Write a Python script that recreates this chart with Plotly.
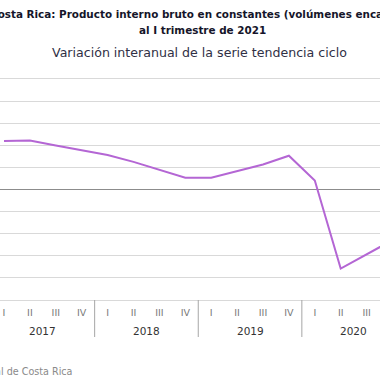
import plotly.graph_objects as go

# ---- data ----
quarters = ["I", "II", "III", "IV"] * 4 + ["I"]
years = ["2017", "2018", "2019", "2020", "2021"]
variacion = [4.39, 4.43, 3.99, 3.56, 3.13, 2.50, 1.78, 1.06,
             1.06, 1.67, 2.26, 3.06, 0.82, -7.15, -5.90, -4.60, -3.30]

title_1 = "Costa Rica: Producto interno bruto en constantes (volúmenes encadenados)"
title_2 = "al I trimestre de 2021"
subtitle = "Variación interanual de la serie tendencia ciclo"
source = "Fuente: Banco Central de Costa Rica"

FONT = "DejaVu Sans"
W, H = 380, 380
x_idx = list(range(len(variacion)))

fig = go.Figure()
fig.add_trace(go.Scatter(
    x=x_idx, y=variacion, mode="lines",
    line=dict(color="#b466d4", width=2),
    hoverinfo="skip", showlegend=False, cliponaxis=True,
))

top, bottom = 79, 300
ph = bottom - top

def py(px):
    return (bottom - px) / ph

shapes = []
annotations = []
for i, yr in enumerate(years[:4]):
    annotations.append(dict(
        x=i * 4 + 1.5, y=py(331), xref="x", yref="paper", text=yr,
        showarrow=False, xanchor="center", yanchor="middle",
        font=dict(family=FONT, size=10.5, color="#333333"),
    ))
for i in range(5):
    xs = i * 4 - 0.5
    shapes.append(dict(type="line", xref="x", yref="paper",
                       x0=xs, x1=xs, y0=0, y1=py(337),
                       line=dict(color="#a6a6a6", width=1)))

annotations += [
    dict(x=-12 / W, y=py(14), xref="paper", yref="paper", text=title_1,
         showarrow=False, xanchor="left", yanchor="middle",
         font=dict(family=FONT, size=10.4, color="#15152a", weight="bold")),
    dict(x=202 / W, y=py(30), xref="paper", yref="paper", text=title_2,
         showarrow=False, xanchor="center", yanchor="middle",
         font=dict(family=FONT, size=10.4, color="#15152a", weight="bold")),
    dict(x=199 / W, y=py(53), xref="paper", yref="paper", text=subtitle,
         showarrow=False, xanchor="center", yanchor="middle",
         font=dict(family=FONT, size=12.6, color="#303045")),
    dict(x=75 / W, y=py(371), xref="paper", yref="paper", text=source,
         showarrow=False, xanchor="right", yanchor="middle",
         font=dict(family=FONT, size=9.6, color="#8a8a8a")),
]

fig.update_layout(
    width=W, height=H,
    margin=dict(l=0, r=0, t=top, b=H - bottom, pad=0),
    paper_bgcolor="white", plot_bgcolor="white",
    shapes=shapes, annotations=annotations,
    xaxis=dict(
        range=[-4 / 25.9, (W - 4) / 25.9],
        tickmode="array", tickvals=x_idx, ticktext=quarters,
        showgrid=False, zeroline=False,
        showline=True, mirror=True, linecolor="#d9d9d9", linewidth=1,
        ticks="", ticklabelstandoff=4,
        tickfont=dict(family=FONT, size=9.5, color="#777777"),
    ),
    yaxis=dict(
        range=[-10, 10], dtick=2, showticklabels=False,
        showgrid=True, gridcolor="#d9d9d9", gridwidth=1,
        zeroline=True, zerolinecolor="#8c8c8c", zerolinewidth=1,
        ticks="",
    ),
)

fig.write_html("out.html", config={"displayModeBar": False},
               post_script="document.body.style.margin='0';")
